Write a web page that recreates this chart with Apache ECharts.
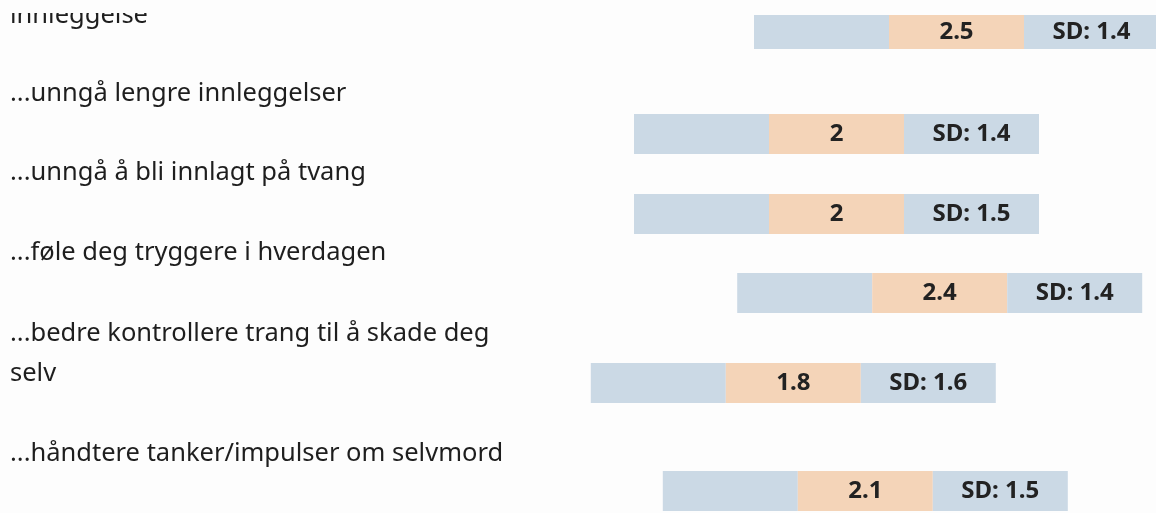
<!DOCTYPE html>
<html>
<head>
<meta charset="utf-8">
<script src="https://cdn.jsdelivr.net/npm/echarts@6/dist/echarts.min.js"></script>
<style>
  html, body { margin: 0; padding: 0; background: #fdfdfd; }
  #chart { width: 1156px; height: 513px; }
</style>
</head>
<body>
<div id="chart"></div>
<script>
// rader (første rad er kuttet i toppen av bildet)
const rowLabels = [
    'innleggelse',
    '...unngå lengre innleggelser',
    '...unngå å bli innlagt på tvang',
    '...føle deg tryggere i hverdagen',
    '...bedre kontrollere trang til å skade deg\nselv',
    '...håndtere tanker/impulser om selvmord'
];
// gjennomsnitt (anslått ut fra plasseringen) og standardavvik
const means = [2.5, 2.0, 2.0, 2.43, 1.82, 2.12];
const sds = [1.4, 1.4, 1.5, 1.4, 1.6, 1.5];

// layout
const barTop = [15, 114, 194, 273, 363, 471];
const barH = [34, 40, 40, 40, 40, 40];
const labelBaseline = [25, 103, 182, 262, 343, 463];
const GRID_LEFT = 356.5;     // x-piksel for verdien 0
const PX_PER_UNIT = 240;
const SEG = 135 / PX_PER_UNIT; // bredde på hvert felt i akseenheter
const BLUE = '#cbd9e5';
const ORANGE = '#f4d4b8';
const LABEL_FONT = 25.5;

const chart = echarts.init(document.getElementById('chart'), null, { renderer: 'canvas' });

const grids = [], xAxes = [], yAxes = [], series = [];
const numLabel = {
    show: true,
    position: 'inside',
    color: '#222',
    fontFamily: 'Noto Sans',
    fontWeight: 'bold',
    fontSize: 24
};

means.forEach((m, i) => {
    grids.push({ left: GRID_LEFT, right: 0, top: barTop[i], height: barH[i] });
    xAxes.push({
        type: 'value', gridIndex: i, min: 0,
        max: (1156 - GRID_LEFT) / PX_PER_UNIT, show: false
    });
    yAxes.push({ type: 'category', gridIndex: i, data: [''], show: false });

    const common = {
        type: 'bar', stack: 'row' + i, xAxisIndex: i, yAxisIndex: i,
        barWidth: '100%', silent: true, clip: false
    };
    series.push(Object.assign({}, common, {
        data: [m - 1.5 * SEG],
        itemStyle: { color: 'rgba(0,0,0,0)' }
    }));
    series.push(Object.assign({}, common, {
        data: [SEG],
        itemStyle: { color: BLUE }
    }));
    series.push(Object.assign({}, common, {
        data: [SEG],
        itemStyle: { color: ORANGE },
        label: Object.assign({}, numLabel, { formatter: () => String(+m.toFixed(1)) })
    }));
    series.push(Object.assign({}, common, {
        data: [SEG],
        itemStyle: { color: BLUE },
        label: Object.assign({}, numLabel, { formatter: () => 'SD: ' + sds[i] })
    }));
});

// venstre tekster
const graphics = [];
rowLabels.forEach((txt, i) => {
    txt.split('\n').forEach((line, j) => {
        graphics.push({
            type: 'text',
            left: 10,
            top: labelBaseline[i] + 40 * j - 0.388 * LABEL_FONT - LABEL_FONT / 2,
            style: {
                text: line,
                fill: '#1e1e1e',
                font: LABEL_FONT + 'px "Noto Sans"'
            },
            z: 10
        });
    });
});
// toppen av bildet er kuttet
graphics.push({
    type: 'rect',
    left: 0, top: 0,
    shape: { width: 520, height: 13 },
    style: { fill: '#fdfdfd' },
    z: 100
});

chart.setOption({
    backgroundColor: '#fdfdfd',
    animation: false,
    grid: grids,
    xAxis: xAxes,
    yAxis: yAxes,
    series: series,
    graphic: graphics
});
</script>
</body>
</html>
